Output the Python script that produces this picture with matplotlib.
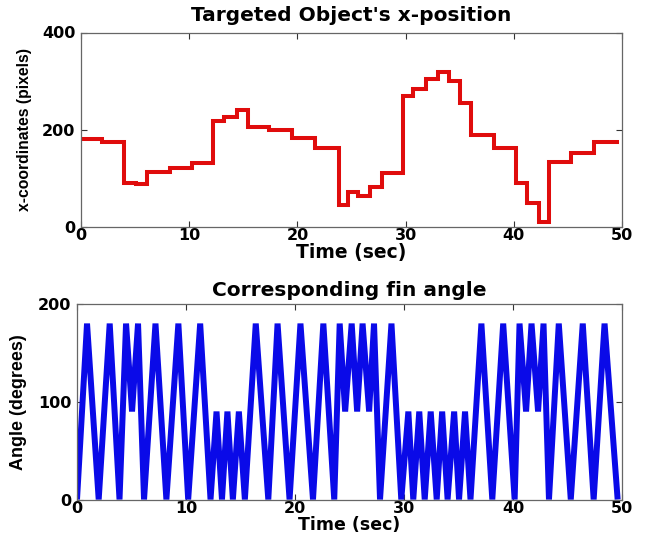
import matplotlib
matplotlib.use("Agg")
import matplotlib.pyplot as plt
import numpy as np

# ---- data: target x-position (step changes) ----
pos_time = [0, 1.9, 4.0, 5.05, 6.1, 8.2, 10.3, 12.2, 13.2, 14.4, 15.4, 17.4, 19.5,
            21.6, 23.8, 24.7, 25.6, 26.7, 27.8, 29.8, 30.7, 31.9, 33.0, 34.0, 35.0,
            36.0, 38.2, 40.2, 41.2, 42.3, 43.25, 45.3, 47.4, 49.5]
pos_value = [182, 175, 90, 88, 113, 122, 132, 219, 226, 241, 206, 200, 184,
             163, 46, 71, 64, 83, 111, 269, 283, 305, 319, 300, 254,
             190, 163, 91, 49, 11, 133, 152, 174, 174]

# ---- data: fin angle vertices ----
fin_time = [0, 0.92, 1.99, 3.0, 3.9, 4.5, 5.05, 5.6, 6.15, 7.2, 8.2, 9.3, 10.2, 11.3,
            12.25, 12.8, 13.3, 13.8, 14.3, 14.85, 15.4, 16.4, 17.55, 18.4, 19.5, 20.5,
            21.65, 22.6, 23.6, 24.1, 24.6, 25.2, 25.7, 26.2, 26.8, 27.25, 27.8, 28.85,
            29.75, 30.4, 30.85, 31.4, 31.9, 32.45, 33.0, 33.5, 34.0, 34.6, 35.05, 35.6,
            36.1, 37.1, 38.1, 39.1, 40.15, 40.6, 41.2, 41.7, 42.3, 42.8, 43.3, 44.2,
            45.3, 46.4, 47.4, 48.4, 49.6]
fin_angle = [0, 180, 0, 180, 0, 180, 90, 180, 0, 180, 0, 180, 0, 180,
             0, 90, 0, 90, 0, 90, 0, 180, 0, 180, 0, 180,
             0, 180, 0, 180, 90, 180, 90, 180, 90, 180, 0, 180,
             0, 90, 0, 90, 0, 90, 0, 90, 0, 90, 0, 90,
             0, 180, 0, 180, 0, 180, 90, 180, 90, 180, 0, 180,
             0, 180, 0, 180, 0]

x_ticks = [0, 10, 20, 30, 40, 50]
top_yticks = [0, 200, 400]
bot_yticks = [0, 100, 200]

fig = plt.figure(figsize=(6.6, 5.36), dpi=100)
ax1 = fig.add_axes([81/660, 1-227/536, (622-81)/660, (227-32.5)/536])
ax2 = fig.add_axes([77/660, 1-499.5/536, (622-77)/660, (499.5-304)/536])

tick_font = dict(family="DejaVu Sans", weight="bold", size=11.5)
lab_font = dict(family="DejaVu Sans", weight="bold", size=14.5)

ax1.plot(pos_time, pos_value, drawstyle="steps-post", color="#e00c0c", lw=2.9,
         solid_joinstyle="miter")
ax2.plot(fin_time, fin_angle, color="#0a0ae8", lw=4.3, solid_joinstyle="bevel",
         solid_capstyle="butt")

specs = [(ax1, top_yticks, "x-coordinates (pixels)", "Targeted Object's x-position", 11.3, 7, 8, 0, 13.5),
         (ax2, bot_yticks, "Angle (degrees)", "Corresponding fin angle", 13.0, 8, 6, 0, 12.5)]
for ax, yt, ylab, title, ysize, ypad, tpad, xpad, xsize in specs:
    ax.set_xlim(0, 50)
    ax.set_ylim(yt[0], yt[-1])
    ax.set_xticks(x_ticks)
    ax.set_yticks(yt)
    ax.set_xticklabels([str(t) for t in x_ticks], fontdict=tick_font)
    ax.set_yticklabels([str(t) for t in yt], fontdict=tick_font)
    ax.tick_params(direction="in", length=4, width=0.8, top=True, right=True,
                   color="#333333", pad=1)
    ax.tick_params(axis="y", pad=4)
    for s in ax.spines.values():
        s.set_color("#666666")
        s.set_linewidth(0.9)
    ax.set_xlabel("Time (sec)", family="DejaVu Sans", weight="bold", size=xsize,
                  labelpad=xpad)
    ax.set_ylabel(ylab, family="Liberation Sans", weight="bold", size=ysize,
                  labelpad=ypad)
    ax.set_title(title, fontdict=lab_font, pad=tpad)

fig.savefig("out.png", dpi=100)
